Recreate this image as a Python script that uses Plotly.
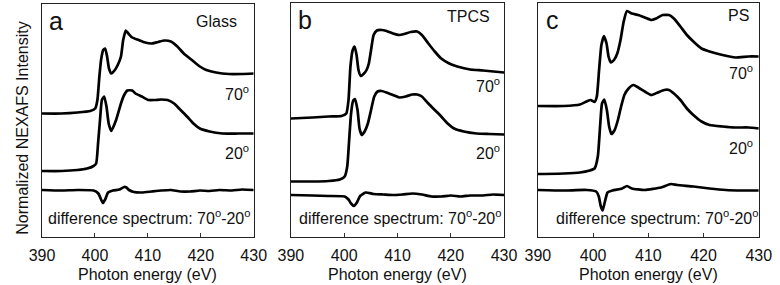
import plotly.graph_objects as go

# ---------------- data (photon energy in eV, intensity in arbitrary units) -------------
# Panel a : Glass
a70_e = [390.0, 393.65, 396.7, 399.13, 400.05, 400.47, 400.84, 401.2, 401.57, 401.93, 402.3, 402.66,
         403.09, 403.7, 404.31, 404.92, 405.34, 405.83, 406.32, 407.05, 408.26, 409.48, 410.7, 411.92,
         413.13, 414.35, 415.57, 416.79, 418.31, 419.83, 421.05, 422.88, 425.31, 427.75, 430.0]
a70_i = [2.47, 2.47, 2.49, 2.52, 2.57, 2.74, 3.21, 3.57, 3.74, 3.77, 3.61, 3.37,
         3.27, 3.33, 3.44, 3.61, 3.94, 4.13, 4.07, 3.99, 3.94, 3.89, 3.87, 3.90,
         3.93, 3.91, 3.81, 3.67, 3.54, 3.41, 3.34, 3.29, 3.26, 3.26, 3.27]

a20_e = [390.0, 393.65, 396.7, 398.52, 399.74, 400.23, 400.59, 400.96, 401.32, 401.75, 402.18, 402.6,
         403.09, 404.0, 404.92, 405.52, 406.13, 407.05, 407.65, 408.87, 410.09, 411.31, 412.53,
         413.74, 414.96, 416.18, 417.4, 418.61, 419.83, 421.66, 424.09, 427.14, 430.0]
a20_i = [1.32, 1.32, 1.34, 1.37, 1.42, 1.47, 1.87, 2.34, 2.74, 2.81, 2.61, 2.27,
         2.12, 2.34, 2.67, 2.84, 2.93, 2.93, 2.87, 2.81, 2.74, 2.74, 2.75,
         2.74, 2.67, 2.54, 2.41, 2.27, 2.17, 2.11, 2.07, 2.07, 2.07]

adiff_e = [390.0, 393.65, 396.7, 399.74, 400.65, 401.08, 401.5, 401.93, 402.48, 403.39, 404.61, 405.52,
           405.95, 406.44, 407.35, 408.87, 410.7, 412.53, 414.35, 416.18, 418.0, 419.83, 421.66,
           423.48, 425.92, 427.75, 430.0]
adiff_i = [0.94, 0.93, 0.94, 0.93, 0.87, 0.77, 0.68, 0.75, 0.89, 0.93, 0.95, 1.00,
           0.99, 0.94, 0.90, 0.89, 0.91, 0.93, 0.94, 0.91, 0.91, 0.93, 0.92,
           0.94, 0.93, 0.95, 0.94]

# Panel b : TPCS
b70_e = [390.0, 394.05, 397.07, 399.48, 400.39, 400.81, 401.17, 401.6, 401.96, 402.32, 402.68, 403.11,
         403.71, 404.19, 404.62, 405.04, 405.52, 406.13, 407.03, 407.94, 409.15, 410.35, 411.26,
         412.47, 413.68, 414.58, 415.79, 416.99, 418.2, 419.72, 421.23, 423.64, 426.06, 430.0]
b70_i = [2.37, 2.39, 2.41, 2.42, 2.47, 2.74, 3.41, 3.74, 3.81, 3.64, 3.34, 3.22,
         3.27, 3.34, 3.47, 3.74, 4.04, 4.13, 4.14, 4.12, 4.07, 4.04, 4.06,
         4.10, 4.11, 4.04, 3.87, 3.71, 3.57, 3.47, 3.41, 3.35, 3.33, 3.29]

b20_e = [390.0, 394.05, 397.07, 399.18, 400.09, 400.57, 400.93, 401.29, 401.66, 402.02, 402.5, 402.87,
         403.29, 403.83, 404.44, 405.04, 405.64, 406.25, 407.03, 407.94, 409.15, 410.35, 411.56,
         412.77, 413.68, 414.58, 415.79, 416.99, 418.2, 419.41, 420.62, 422.43, 424.85, 427.27, 430.0]
b20_i = [1.11, 1.11, 1.12, 1.15, 1.21, 1.41, 1.94, 2.47, 2.72, 2.76, 2.54, 2.17,
         2.04, 2.11, 2.27, 2.54, 2.81, 2.91, 2.92, 2.89, 2.84, 2.79, 2.81,
         2.85, 2.85, 2.81, 2.67, 2.54, 2.41, 2.27, 2.17, 2.11, 2.07, 2.06, 2.05]

bdiff_e = [390.0, 394.05, 397.07, 400.09, 400.81, 401.29, 401.84, 402.38, 402.99, 404.01, 405.52,
           407.33, 409.15, 410.96, 412.77, 414.58, 416.39, 418.2, 420.02, 421.83, 423.64, 426.06,
           427.87, 430.0]
bdiff_i = [0.84, 0.83, 0.82, 0.81, 0.75, 0.67, 0.62, 0.69, 0.82, 0.89, 0.86,
           0.85, 0.84, 0.85, 0.87, 0.85, 0.81, 0.81, 0.83, 0.81, 0.83, 0.83,
           0.85, 0.84]

# Panel c : PS
c70_e = [390.0, 394.69, 397.62, 398.8, 399.56, 400.26, 400.67, 401.08, 401.5, 401.96, 402.43, 402.79,
         403.2, 403.78, 404.37, 404.96, 405.54, 406.13, 407.01, 408.18, 409.35, 410.53, 411.41,
         412.58, 413.75, 414.63, 415.81, 416.98, 418.15, 419.62, 421.08, 423.43, 425.78, 428.12, 430.0]
c70_i = [2.62, 2.62, 2.65, 2.71, 2.74, 2.70, 2.81, 3.34, 3.84, 4.02, 3.87, 3.61,
         3.49, 3.54, 3.67, 3.94, 4.31, 4.52, 4.47, 4.44, 4.39, 4.34, 4.37,
         4.44, 4.44, 4.37, 4.21, 4.04, 3.91, 3.77, 3.71, 3.64, 3.59, 3.61, 3.61]

c20_e = [390.0, 394.69, 397.62, 399.38, 400.26, 400.85, 401.26, 401.61, 402.02, 402.49, 402.9, 403.31,
         403.9, 404.49, 405.07, 405.66, 406.42, 407.3, 408.18, 409.35, 410.53, 411.7, 412.87,
         413.75, 414.63, 415.81, 416.98, 418.15, 419.62, 421.08, 423.43, 425.78, 428.12, 430.0]
c20_i = [1.26, 1.27, 1.29, 1.33, 1.37, 1.61, 2.21, 2.67, 2.75, 2.54, 2.21, 2.06,
         2.14, 2.34, 2.61, 2.84, 2.97, 3.04, 2.99, 2.91, 2.84, 2.89, 2.94,
         2.94, 2.87, 2.74, 2.57, 2.44, 2.31, 2.24, 2.21, 2.19, 2.19, 2.17]

cdiff_e = [390.0, 394.69, 398.8, 400.56, 401.03, 401.38, 401.73, 402.14, 402.61, 403.49, 405.25,
           406.13, 407.01, 409.35, 412.29, 414.05, 415.22, 418.15, 421.08, 424.02, 426.95, 430.0]
cdiff_i = [0.94, 0.93, 0.94, 0.91, 0.81, 0.62, 0.53, 0.71, 0.89, 0.93, 0.97,
           1.02, 0.97, 0.94, 0.99, 1.06, 1.04, 1.01, 0.97, 0.94, 0.93, 0.93]

panel_letters = ["a", "b", "c"]
panel_names = ["Glass", "TPCS", "PS"]
tick_vals = [390, 400, 410, 420, 430]
x_title = "Photon energy (eV)"
y_title = "Normalized NEXAFS Intensity"
angle_labels = ["70<sup>o</sup>", "20<sup>o</sup>"]
diff_label = "difference spectrum: 70<sup>o</sup>-20<sup>o</sup>"

# ---------------- layout helpers ---------------------------------------------------------
W, H = 780, 285
FONT = "Arial, Liberation Sans, sans-serif"
INK = "#111111"

def px(x):
    return x / W

def py(y):
    return 1 - y / H

frames = [  # left, right, top, bottom in pixels
    (30, 249, 4, 237),
    (287.5, 508, 3, 237),
    (543, 771.5, 3, 237),
]
yranges = [[0, 4.66], [0, 4.68], [0, 4.68]]

series = [
    (a70_e, a70_i, a20_e, a20_i, adiff_e, adiff_i),
    (b70_e, b70_i, b20_e, b20_i, bdiff_e, bdiff_i),
    (c70_e, c70_i, c20_e, c20_i, cdiff_e, cdiff_i),
]

fig = go.Figure()
layout = dict(
    width=W, height=H,
    margin=dict(l=0, r=0, t=0, b=0),
    paper_bgcolor="white", plot_bgcolor="white",
    showlegend=False,
    font=dict(family=FONT, size=16, color=INK),
)

for k, (fr, yr, s) in enumerate(zip(frames, yranges, series)):
    n = "" if k == 0 else str(k + 1)
    xa, ya = "x" + n, "y" + n
    for e, i in ((s[0], s[1]), (s[2], s[3]), (s[4], s[5])):
        fig.add_trace(go.Scatter(x=e, y=i, mode="lines", xaxis=xa, yaxis=ya,
                                 line=dict(color="black", width=2.7, shape="spline", smoothing=0.5),
                                 hoverinfo="skip"))
    l, r, t, b = fr
    layout["xaxis" + n] = dict(
        domain=[px(l), px(r)], anchor=ya, range=[390, 430],
        tickvals=tick_vals, ticks="inside", ticklen=4, tickwidth=1, tickcolor="#333",
        showline=True, linecolor="#222", linewidth=1.3, mirror=True,
        showgrid=False, zeroline=False, ticklabelstandoff=4,
        tickfont=dict(family=FONT, size=16, color=INK),
    )
    layout["yaxis" + n] = dict(
        domain=[py(b), py(t)], anchor=xa, range=yr,
        showticklabels=False, ticks="", showline=True, linecolor="#222", linewidth=1.3,
        mirror=True, showgrid=False, zeroline=False,
    )

fig.update_layout(**layout)

ann = []
# panel letters and sample names
letter_pos = [(35, 21), (293, 20), (549, 20)]
name_pos = [(234, 21), (496, 17), (763, 16)]
ang70_pos = [(246, 93), (506, 85), (768, 72)]
ang20_pos = [(246, 152), (506, 152), (768, 147)]
diff_pos = [(141, 217), (401, 217), (667, 217)]
for k in range(3):
    ann.append(dict(text=panel_letters[k], x=px(letter_pos[k][0]), y=py(letter_pos[k][1]),
                    xref="paper", yref="paper", xanchor="left", yanchor="middle",
                    showarrow=False, font=dict(family=FONT, size=25, color=INK)))
    ann.append(dict(text=panel_names[k], x=px(name_pos[k][0]), y=py(name_pos[k][1]),
                    xref="paper", yref="paper", xanchor="right", yanchor="middle",
                    showarrow=False, font=dict(family=FONT, size=16, color=INK)))
    ann.append(dict(text=angle_labels[0], x=px(ang70_pos[k][0]), y=py(ang70_pos[k][1]),
                    xref="paper", yref="paper", xanchor="right", yanchor="middle",
                    showarrow=False, font=dict(family=FONT, size=16, color=INK)))
    ann.append(dict(text=angle_labels[1], x=px(ang20_pos[k][0]), y=py(ang20_pos[k][1]),
                    xref="paper", yref="paper", xanchor="right", yanchor="middle",
                    showarrow=False, font=dict(family=FONT, size=16, color=INK)))
    ann.append(dict(text=diff_label, x=px(diff_pos[k][0]), y=py(diff_pos[k][1]),
                    xref="paper", yref="paper", xanchor="center", yanchor="middle",
                    showarrow=False, font=dict(family=FONT, size=16, color=INK)))
    cx = (frames[k][0] + frames[k][1]) / 2
    ann.append(dict(text=x_title, x=px(cx), y=py(274), xref="paper", yref="paper",
                    xanchor="center", yanchor="middle", showarrow=False,
                    font=dict(family=FONT, size=16, color=INK)))

ann.append(dict(text=y_title, x=px(9), y=py(128), xref="paper", yref="paper",
                xanchor="center", yanchor="middle", textangle=-90, showarrow=False,
                font=dict(family=FONT, size=16, color=INK)))

fig.update_layout(annotations=ann)
fig.write_html("out.html", config={"displayModeBar": False},
               post_script="document.body.style.margin='0';")
